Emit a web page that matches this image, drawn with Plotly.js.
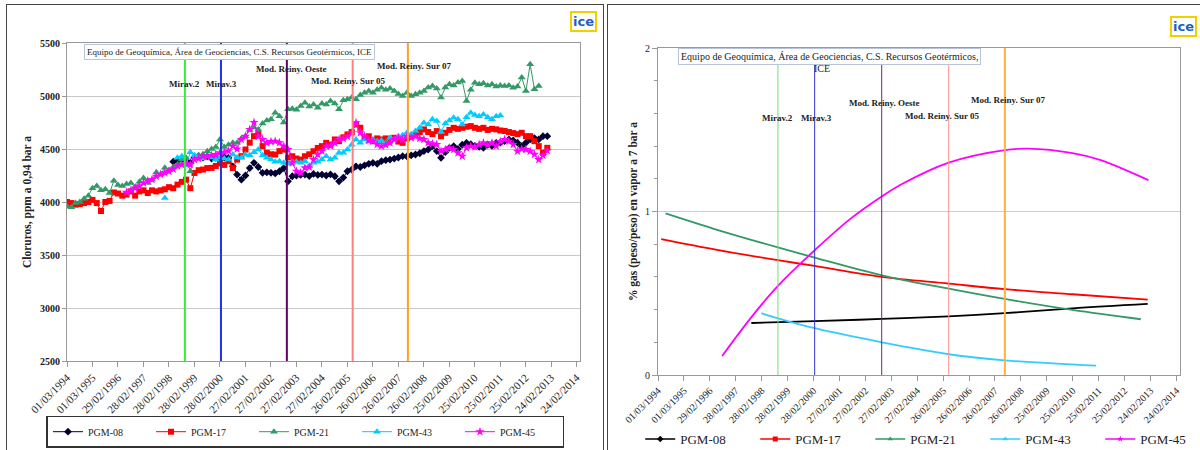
<!DOCTYPE html>
<html><head><meta charset="utf-8">
<script src="https://cdn.plot.ly/plotly-3.0.1.min.js"></script>
<style>
body{margin:0;background:#fff;width:1200px;height:450px;overflow:hidden;position:relative}
#left{position:absolute;left:0;top:0;width:600px;height:450px}
#right{position:absolute;left:600px;top:0;width:600px;height:450px}
.frame{position:absolute;border:1.5px solid #444;border-bottom:none;pointer-events:none;z-index:10}
</style></head><body>
<div id="left"></div><div id="right"></div>
<div class="frame" style="left:6px;top:4px;width:596px;height:460px"></div>
<div class="frame" style="left:607px;top:4px;width:600px;height:460px"></div>
<script>
// ---------- DATA ----------
const tickDates = ['1994-03-01','1995-03-01','1996-02-29','1997-02-28','1998-02-28','1999-02-28','2000-02-28','2001-02-27','2002-02-27','2003-02-27','2004-02-27','2005-02-26','2006-02-26','2007-02-26','2008-02-26','2009-02-25','2010-02-25','2011-02-25','2012-02-25','2013-02-24','2014-02-24'];
const tickLabels = ['01/03/1994','01/03/1995','29/02/1996','28/02/1997','28/02/1998','28/02/1999','28/02/2000','27/02/2001','27/02/2002','27/02/2003','27/02/2004','26/02/2005','26/02/2006','26/02/2007','26/02/2008','25/02/2009','25/02/2010','25/02/2011','25/02/2012','24/02/2013','24/02/2014'];
const wellNames = ['PGM-08','PGM-17','PGM-21','PGM-43','PGM-45'];

const sampleDates = [
'1994-03','1994-05','1994-07','1994-09','1994-11',
'1995-01','1995-03','1995-05','1995-07','1995-09','1995-11',
'1996-01','1996-03','1996-05','1996-07','1996-09','1996-11',
'1997-01','1997-03','1997-05','1997-07','1997-09','1997-11',
'1998-01','1998-03','1998-05','1998-07','1998-09','1998-11',
'1999-01','1999-03','1999-05','1999-07','1999-09','1999-11',
'2000-01','2000-03','2000-05','2000-07','2000-09','2000-11',
'2001-01','2001-03','2001-05','2001-07','2001-09','2001-11',
'2002-01','2002-03','2002-05','2002-07','2002-09','2002-11',
'2003-01','2003-03','2003-05','2003-07','2003-09','2003-11',
'2004-01','2004-03','2004-05','2004-07','2004-09','2004-11',
'2005-01','2005-03','2005-05','2005-07','2005-09','2005-11',
'2006-01','2006-03','2006-05','2006-07','2006-09','2006-11',
'2007-01','2007-03','2007-05','2007-07','2007-09','2007-11',
'2008-01','2008-03','2008-05','2008-07','2008-09','2008-11',
'2009-01','2009-03','2009-05','2009-07','2009-09','2009-11',
'2010-01','2010-03','2010-05','2010-07','2010-09','2010-11',
'2011-01','2011-03','2011-05','2011-07','2011-09','2011-11',
'2012-01','2012-03','2012-05','2012-07','2012-09','2012-11',
'2013-01'];

const cl08 = [
null,null,null,null,null,
null,null,null,null,null,null,
null,null,null,null,null,null,
null,null,null,null,null,null,
null,null,4380,4385,4400,4390,
4370,4420,4432,4420,4430,4410,
4417,4400,4420,4417,4337,4259,
4211,4250,4320,4370,4330,4275,
4280,4275,4270,4290,4320,4195,
4243,4250,4255,4259,4245,4265,
4255,4259,4250,4260,4243,4195,
4230,4290,4306,4337,4330,4346,
4360,4370,4360,4385,4395,4400,
4410,4420,4432,4430,4440,4448,
4460,4480,4495,4527,4480,4417,
4470,4511,4527,4500,4540,4558,
4545,4530,4520,4511,4540,4530,
4558,4560,4575,4590,4580,4560,
4527,4560,4590,4603,4590,4621,
4621];

const cl17 = [
4000,3990,3975,3980,3990,
4000,4020,3990,3915,4000,4010,
4090,4080,4060,4070,4100,4060,
4100,4110,4085,4110,4100,4110,
4120,4140,4130,4164,4190,4211,
4130,4274,4300,4306,4320,4322,
4340,4363,4350,4385,4320,4400,
4432,4495,4560,4621,4640,4527,
4464,4450,4448,4480,4495,4420,
4432,4410,4400,4432,4450,4479,
4510,4527,4558,4540,4590,4574,
4610,4637,4660,4732,4700,4606,
4620,4574,4600,4590,4600,4580,
4606,4570,4558,4600,4620,4637,
4660,4685,4660,4640,4669,4620,
4653,4680,4700,4690,4700,4710,
4716,4700,4690,4700,4680,4690,
4685,4675,4670,4660,4650,4640,
4653,4621,4621,4574,4527,4464,
4511];

const cl21 = [
3960,3950,3990,4000,4030,
4060,4130,4150,4110,4120,4085,
4200,4160,4150,4170,4180,4140,
4190,4227,4180,4210,4280,4260,
4322,4300,4330,4353,4400,4417,
4290,4420,4440,4450,4479,4500,
4520,4590,4520,4540,4558,4560,
4600,4621,4680,4703,4685,4740,
4770,4780,4843,4810,4750,4874,
4880,4870,4905,4937,4900,4920,
4890,4930,4920,4953,4930,4874,
4960,4970,4985,4970,5010,5030,
5047,5030,5060,5079,5060,5070,
5047,5020,5000,5030,5000,5016,
5030,5047,5080,5095,5070,4985,
5080,5110,5100,5127,5142,4953,
5060,5126,5110,5120,5100,5110,
5090,5100,5095,5100,5079,5090,
5174,5047,5300,5063,5095,null,
null];

const cl43 = [
null,null,null,null,null,
null,null,null,null,null,null,
null,null,null,null,null,null,
null,null,null,null,null,null,
4038,null,null,4417,4432,4350,
4470,4440,4417,4410,4432,4420,
4400,4417,4410,4400,4448,4420,
4417,4448,4440,4470,4495,4440,
4417,4400,4380,4385,4370,4360,
4370,4380,4370,4385,4337,4370,
4380,4400,4432,4400,4417,4464,
4464,4495,4540,4590,4560,4590,
4570,4590,4574,4580,4560,4606,
4590,4621,4630,4653,4640,4669,
4700,4748,4732,4780,4764,4660,
4740,4770,4795,4780,4732,4800,
4843,4820,4810,4826,4800,4780,
4810,4815,null,null,null,null,
null,null,null,null,null,null,
null];

const cl45 = [
null,null,null,null,null,
null,null,null,null,null,null,
null,null,null,4091,4110,4132,
4150,4180,4200,4211,4243,4260,
4275,4290,4310,4340,4353,4360,
4353,4400,4410,4432,4432,4440,
4448,4464,4470,4480,4527,4500,
4590,4621,4685,4750,4620,4590,
4558,4570,4574,4560,4527,4495,
4370,4290,4275,4322,4330,4400,
4448,4480,4527,4530,4558,4590,
4600,4620,4653,4748,4653,4620,
4580,4574,4543,4527,4540,4558,
4590,4605,4590,4621,4605,4621,
4600,4590,4558,4550,4543,4479,
4495,4511,4495,4464,4432,4511,
4527,4520,4543,4558,4540,4558,
4527,4570,4590,4574,4543,4479,
4500,4495,4479,4450,4400,4440,
4485];

// gas trend curves (right chart)
const gas08Dates = ['1997-10-05','2000-03-15','2002-10-15','2005-05-15','2007-07-15','2010-02-20','2013-01-15'];
const gas08 = [0.318,0.329,0.343,0.359,0.378,0.408,0.435];
const gas17Dates = ['1994-04-15','1996-06-10','1998-10-15','2000-03-15','2002-10-15','2005-05-15','2007-07-15','2010-02-20','2013-01-15'];
const gas17 = [0.831,0.765,0.702,0.667,0.600,0.559,0.525,0.494,0.461];
const gas21Dates = ['1994-06-15','1996-06-10','1998-10-15','2000-03-15','2002-10-15','2005-05-15','2007-07-15','2010-02-20','2012-10-10'];
const gas21 = [0.988,0.888,0.780,0.718,0.610,0.528,0.465,0.398,0.341];
const gas43Dates = ['1998-02-22','1998-10-15','2000-03-15','2002-10-15','2003-07-01','2005-05-15','2007-07-15','2011-01-20'];
const gas43 = [0.378,0.347,0.286,0.200,0.178,0.127,0.090,0.057];
const gas45Dates = ['1996-08-20','1997-09-20','1998-10-15','2000-03-15','2001-07-30','2002-10-15','2003-07-01','2005-05-15','2007-07-15','2008-06-10','2010-02-20','2011-03-15','2013-01-25'];
const gas45 = [0.116,0.345,0.545,0.763,0.955,1.092,1.162,1.299,1.376,1.384,1.357,1.316,1.192];

const eventNames = ['Mirav.2','Mirav.3','Mod. Reiny. Oeste','Mod. Reiny. Sur 05','Mod. Reiny. Sur 07'];
const eventDates = ['1998-10-15','2000-03-15','2002-10-15','2005-05-15','2007-07-15'];

const creditText = 'Equipo de Geoquímica, Área de Geociencias, C.S. Recursos Geotérmicos, ICE';
const creditLine1 = 'Equipo de Geoquímica, Área de Geociencias, C.S. Recursos Geotérmicos,';
const creditLine2 = 'ICE';
const leftYTitle = 'Cloruros, ppm a 0,94 bar a';
const rightYTitle = '% gas (peso/peso) en vapor a 7 bar a';

// ---------- STYLE ----------
const SERIF = '"Liberation Serif","Times New Roman",serif';
const TXT = '#222';
const wellColors = ['#000033','#ff0000','#339966','#00ccff','#ff00ff'];
const gasColors = ['#000000','#ff0000','#339966','#33ccff','#ff00ff'];
const wellSymbols = ['diamond','square','triangle-up','triangle-up','star'];
const wellSizes = [6,6,7,7,7];
const evColorsL = ['#33ee33','#2233dd','#660066','#ff8080','#ffa020'];
const evColorsR = ['#77dd77','#3333cc','#772277','#ff9090','#ffb040'];
const evWidthL = [2,2,2,2,2];
const evWidthR = [1,1,1,1,2];

function xaxisBase(fs){
  return {type:'date', range:['1994-03-01','2014-04-15'], tickmode:'array', tickvals:tickDates, ticktext:tickLabels,
    tickangle:-45, ticks:'outside', ticklen:5, tickcolor:'#999', showgrid:false, showline:true, linecolor:'#999',
    linewidth:1, mirror:true, zeroline:false, tickfont:{family:SERIF,size:fs,color:TXT}, automargin:false};
}

// ---------- LEFT ----------
const clSeries = [cl08,cl17,cl21,cl43,cl45];
const leftTraces = clSeries.map((s,i)=>({
  x:sampleDates, y:s, name:wellNames[i], type:'scatter', mode:'lines+markers',
  line:{color:wellColors[i], width:1}, marker:{symbol:wellSymbols[i], size:wellSizes[i], color:wellColors[i]},
  legend:'legend'
}));

const lLabelY = [0.871,0.871,0.918,0.881,0.928];
const lLabelShift = [0,1,5,-4,7];
const leftShapes = eventDates.map((d,i)=>({type:'line', xref:'x', yref:'paper', x0:d, x1:d, y0:0, y1:1,
  line:{color:evColorsL[i], width:evWidthL[i]}}));
const leftAnn = eventNames.map((n,i)=>({xref:'x', yref:'paper', x:eventDates[i], y:lLabelY[i], xshift:lLabelShift[i],
  text:n, showarrow:false, xanchor:'center', yanchor:'middle', font:{family:SERIF,size:9,color:TXT,weight:'bold'}}));
leftAnn.push({xref:'paper', yref:'paper', x:0.033, y:0.972, xanchor:'left', yanchor:'middle', text:creditText,
  showarrow:false, font:{family:SERIF,size:9,color:TXT}, bordercolor:'#b8c4dc', borderwidth:1, borderpad:2, bgcolor:'#fff'});
leftAnn.push({xref:'paper', yref:'paper', x:1.006, y:1.069, xanchor:'center', yanchor:'middle', text:'<b>ice</b>',
  showarrow:false, font:{family:'DejaVu Sans',size:13,color:'#1e5fc0'}, bordercolor:'#f0d000', borderwidth:2, borderpad:1, bgcolor:'#fff'});

const leftLayout = {
  width:600, height:450, margin:{l:67, r:20, t:43, b:89, autoexpand:false},
  paper_bgcolor:'#fff', plot_bgcolor:'#fff', font:{family:SERIF,color:TXT},
  xaxis: xaxisBase(11),
  yaxis:{range:[2500,5500], dtick:500, tick0:2500, ticks:'outside', ticklen:4, tickcolor:'#999', showgrid:true, gridcolor:'#c8c8c8',
    showline:true, linecolor:'#999', mirror:true, zeroline:false, automargin:false,
    tickfont:{family:SERIF,size:10,color:TXT,weight:'bold'},
    title:{text:leftYTitle, font:{family:SERIF,size:11.5,color:TXT,weight:'bold'}, standoff:5}},
  shapes:leftShapes, annotations:leftAnn, showlegend:true,
  legend:{orientation:'h', x:-0.04, xanchor:'left', y:-0.172, yanchor:'top', bordercolor:'#333', borderwidth:1.5, bgcolor:'#fff',
    font:{family:SERIF,size:10,color:TXT}, entrywidth:58, entrywidthmode:'pixels', itemwidth:30, tracegroupgap:0}
};
Plotly.newPlot('left', leftTraces, leftLayout, {displayModeBar:false, staticPlot:true});

// ---------- RIGHT ----------
const gasX = [gas08Dates,gas17Dates,gas21Dates,gas43Dates,gas45Dates];
const gasY = [gas08,gas17,gas21,gas43,gas45];
const rightTraces = gasX.map((xs,i)=>({
  x:xs, y:gasY[i], type:'scatter', mode:'lines', line:{color:gasColors[i], width:1.8, shape:'spline', smoothing:1},
  showlegend:false, hoverinfo:'skip'
}));
wellNames.forEach((n,i)=>rightTraces.push({
  x:[null], y:[null], type:'scatter', mode:'lines+markers', name:n, showlegend:true, legend:'legend',
  line:{color:gasColors[i], width:1.5}, marker:{symbol:wellSymbols[i], size:5, color:gasColors[i]}
}));

const rLabelY = [0.786,0.786,0.832,0.793,0.841];
const rLabelShift = [0,2,3,-6,4];
const rightShapes = eventDates.map((d,i)=>({type:'line', xref:'x', yref:'paper', x0:d, x1:d, y0:0, y1:1,
  line:{color:evColorsR[i], width:evWidthR[i]}}));
const rightAnn = eventNames.map((n,i)=>({xref:'x', yref:'paper', x:eventDates[i], y:rLabelY[i], xshift:rLabelShift[i],
  text:n, showarrow:false, xanchor:'center', yanchor:'middle', font:{family:SERIF,size:9,color:TXT,weight:'bold'}}));
rightAnn.push({xref:'paper', yref:'paper', x:0.038, y:0.973, xanchor:'left', yanchor:'middle', text:creditLine1,
  showarrow:false, font:{family:SERIF,size:10,color:TXT}, bordercolor:'#b8c4dc', borderwidth:1, borderpad:2, bgcolor:'#fff'});
rightAnn.push({xref:'paper', yref:'paper', x:0.3146, y:0.936, xanchor:'center', yanchor:'middle', text:creditLine2,
  showarrow:false, font:{family:SERIF,size:10,color:TXT}});
rightAnn.push({xref:'paper', yref:'paper', x:1.007, y:1.067, xanchor:'center', yanchor:'middle', text:'<b>ice</b>',
  showarrow:false, font:{family:'DejaVu Sans',size:13,color:'#1e5fc0'}, bordercolor:'#f0d000', borderwidth:2, borderpad:1, bgcolor:'#fff'});

const rightLayout = {
  width:600, height:450, margin:{l:58, r:20, t:48, b:75, autoexpand:false},
  paper_bgcolor:'rgba(0,0,0,0)', plot_bgcolor:'#fff', font:{family:SERIF,color:TXT},
  xaxis: xaxisBase(10),
  yaxis:{range:[0,2], dtick:1, tick0:0, ticks:'outside', ticklen:5, tickcolor:'#999', showgrid:true, gridcolor:'#cccccc',
    showline:true, linecolor:'#999', mirror:true, zeroline:false, automargin:false,
    minor:{dtick:0.2, ticks:'outside', ticklen:3, tickcolor:'#999', showgrid:false},
    tickfont:{family:SERIF,size:10,color:TXT},
    title:{text:rightYTitle, font:{family:SERIF,size:11.5,color:TXT,weight:'bold'}, standoff:4}},
  shapes:rightShapes, annotations:rightAnn, showlegend:true,
  legend:{orientation:'h', x:-0.034, xanchor:'left', y:-0.15, yanchor:'top', borderwidth:0, bgcolor:'rgba(0,0,0,0)',
    font:{family:SERIF,size:13,color:TXT}, entrywidth:70, entrywidthmode:'pixels', itemwidth:30, tracegroupgap:0}
};
Plotly.newPlot('right', rightTraces, rightLayout, {displayModeBar:false, staticPlot:true});
</script>
</body></html>
